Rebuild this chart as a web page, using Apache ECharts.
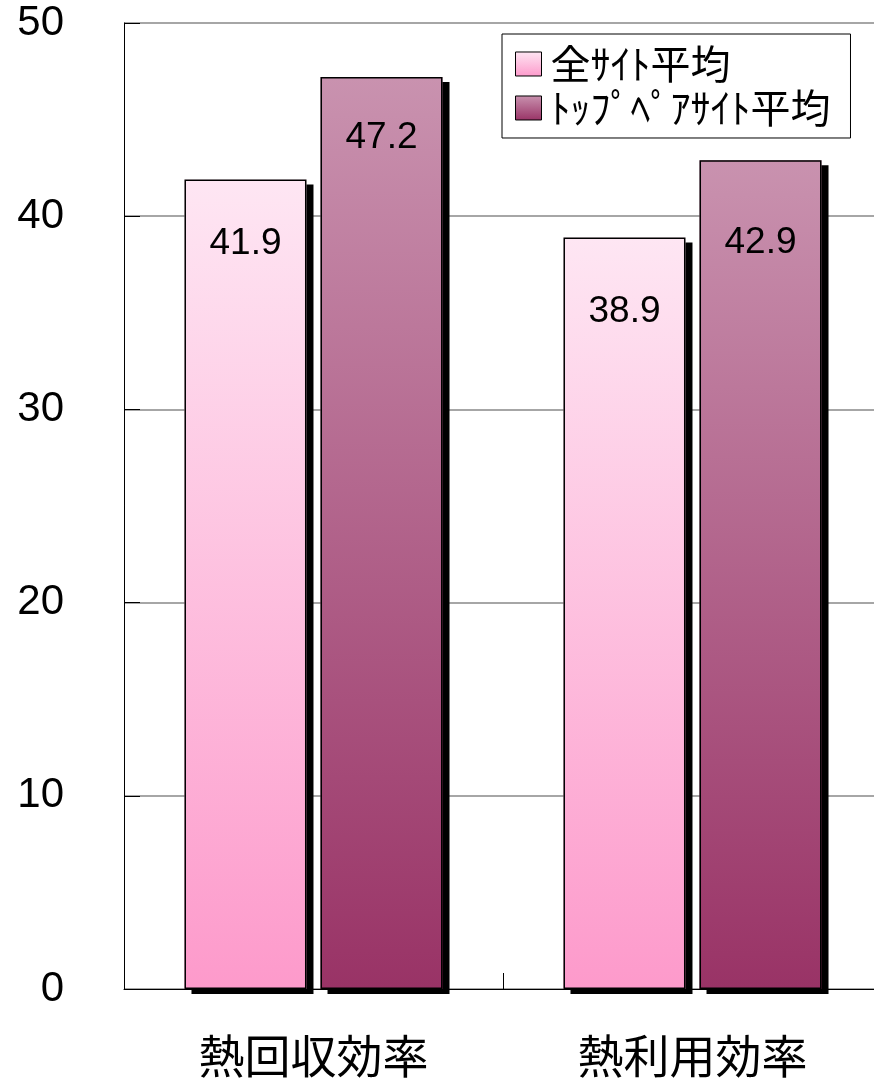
<!DOCTYPE html>
<html>
<head>
<meta charset="utf-8">
<script src="https://cdn.jsdelivr.net/npm/echarts@6/dist/echarts.min.js"></script>
<style>
html,body{margin:0;padding:0;background:#fff;overflow:hidden;width:874px;height:1079px;}
#chart{width:882px;height:1079px;}
</style>
</head>
<body>
<div id="chart"></div>
<script>
var categories = ['熱回収効率', '熱利用効率'];
var seriesNames = ['全ｻｲﾄ平均', 'ﾄｯﾌﾟﾍﾟｱｻｲﾄ平均'];
var allSiteAvg = [41.9, 38.9];
var topPairAvg = [47.2, 42.9];
var yTicks = { min: 0, max: 50, interval: 10 };

// label placement (style), kept apart from data
var labelDist1 = [46, 56];
var labelDist2 = [42, 64];

var chart = echarts.init(document.getElementById('chart'), null, {renderer: 'canvas'});

function grad(top, bottom) {
  return new echarts.graphic.LinearGradient(0, 0, 0, 1, [
    {offset: 0, color: top}, {offset: 1, color: bottom}
  ]);
}

function buildData(vals, dists) {
  return vals.map(function (v, i) {
    return {value: v, label: {distance: dists[i]}};
  });
}

var shadowStyle = {
  borderWidth: 0,
  shadowColor: '#000',
  shadowBlur: 0,
  shadowOffsetX: 7,
  shadowOffsetY: 5
};

var labelStyle = {
  show: true,
  position: 'insideTop',
  fontSize: 37,
  color: '#000',
  fontFamily: 'Liberation Sans, Arial, sans-serif'
};

var catAxisBase = {
  type: 'category',
  data: categories,
  boundaryGap: true
};

var BAR_W = 122, BAR_GAP = '11.5%';

chart.setOption({
  animation: false,
  backgroundColor: '#fff',
  grid: {left: 124, top: 23, right: 0, bottom: 90, containLabel: false},
  legend: {
    orient: 'vertical',
    left: 502,
    top: 34,
    align: 'left',
    icon: 'rect',
    padding: [10, 20, 10, 13],
    itemGap: 4,
    itemWidth: 26,
    itemHeight: 24,
    borderColor: '#000',
    borderWidth: 1,
    backgroundColor: '#fff',
    textStyle: {fontSize: 40, color: '#000', fontFamily: 'Noto Sans CJK JP', padding: [0, 0, 0, 4]},
    itemStyle: {borderColor: '#000', borderWidth: 1, shadowBlur: 0, shadowOffsetX: 0, shadowOffsetY: 0, shadowColor: 'transparent'},
    data: seriesNames
  },
  xAxis: [
    Object.assign({}, catAxisBase, {
      axisLine: {lineStyle: {color: '#000', width: 1}},
      axisTick: {show: true, inside: true, length: 16, lineStyle: {color: '#000'}},
      axisLabel: {fontSize: 46, color: '#000', fontFamily: 'Noto Sans CJK JP', margin: 44}
    }),
    Object.assign({}, catAxisBase, {show: false})
  ],
  yAxis: {
    type: 'value',
    min: yTicks.min,
    max: yTicks.max,
    interval: yTicks.interval,
    axisLine: {show: true, lineStyle: {color: '#000', width: 1}},
    axisTick: {show: true, inside: true, length: 16, lineStyle: {color: '#000'}},
    splitLine: {show: true, lineStyle: {color: '#888', width: 1.5}},
    axisLabel: {fontSize: 42, color: '#000', fontFamily: 'Liberation Sans, Arial, sans-serif', margin: 60}
  },
  series: [
    {
      name: seriesNames[0],
      type: 'bar',
      xAxisIndex: 0,
      barWidth: BAR_W,
      barGap: BAR_GAP,
      data: allSiteAvg,
      itemStyle: Object.assign({color: grad('#fee6f3', '#fd9acb')}, shadowStyle),
      z: 2
    },
    {
      name: seriesNames[1],
      type: 'bar',
      xAxisIndex: 0,
      barWidth: BAR_W,
      barGap: BAR_GAP,
      data: topPairAvg,
      itemStyle: Object.assign({color: grad('#c992af', '#993366')}, shadowStyle),
      z: 2
    },
    {
      name: 'outline-1',
      type: 'bar',
      xAxisIndex: 1,
      barWidth: BAR_W,
      barGap: BAR_GAP,
      data: buildData(allSiteAvg, labelDist1),
      itemStyle: {color: 'rgba(0,0,0,0)', borderColor: '#000', borderWidth: 1.5},
      label: labelStyle,
      silent: true,
      z: 3
    },
    {
      name: 'outline-2',
      type: 'bar',
      xAxisIndex: 1,
      barWidth: BAR_W,
      barGap: BAR_GAP,
      data: buildData(topPairAvg, labelDist2),
      itemStyle: {color: 'rgba(0,0,0,0)', borderColor: '#000', borderWidth: 1.5},
      label: labelStyle,
      silent: true,
      z: 3
    }
  ]
});
</script>
</body>
</html>
